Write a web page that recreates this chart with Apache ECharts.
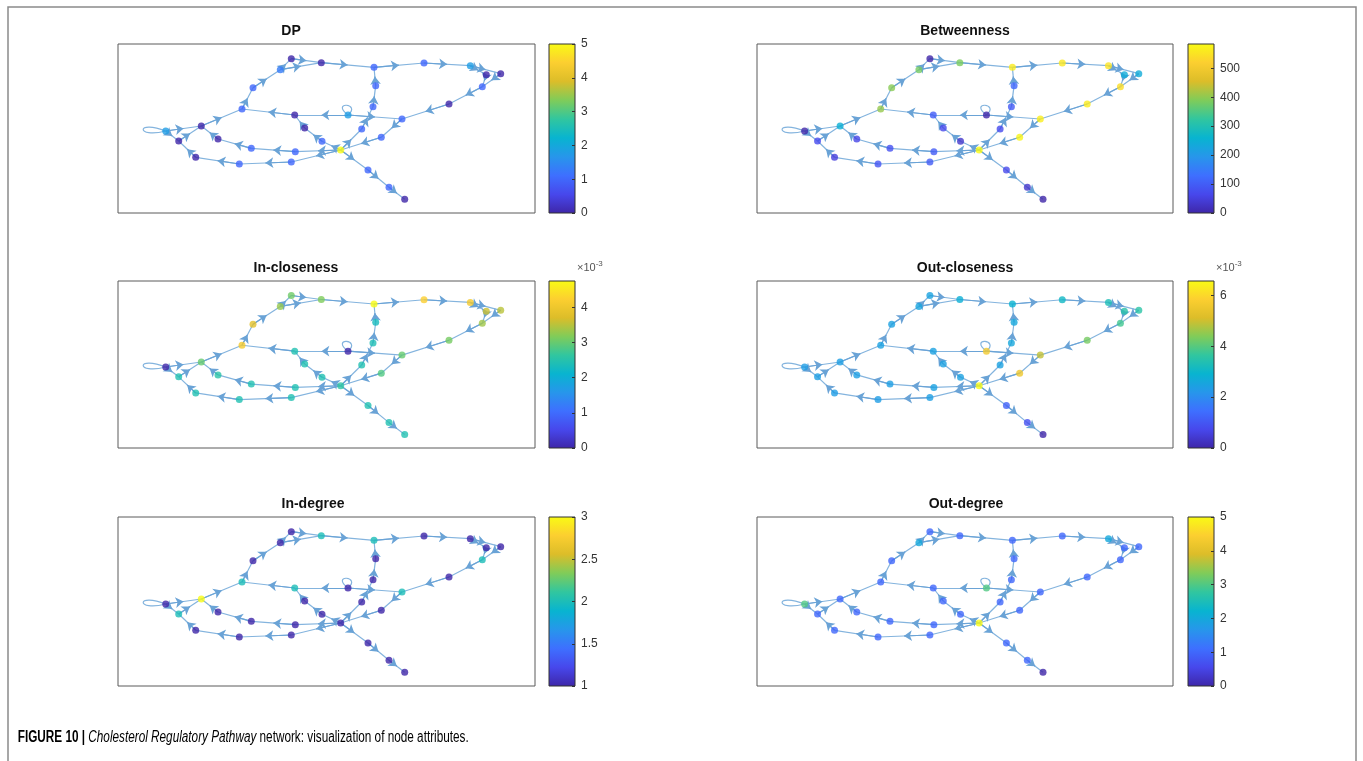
<!DOCTYPE html>
<html><head><meta charset="utf-8">
<script src="https://cdn.jsdelivr.net/npm/echarts@6/dist/echarts.min.js"></script>
<style>html,body{margin:0;padding:0;background:#fff;}#c{width:1363px;height:761px;}</style>
</head><body><div id="c"></div>
<script>
// ---------- DATA ----------
const nodeIds = ['A','B','C','D','E','F','G','H','I','J','K','L','M','N','O','P','Q','R','S','T','U','V','W','X','Y','Z','AA','AB','AC','AD','AE','AF','AG','AH'];
// layout coordinates (shared by all six panels)
const nodeX = [173.3,162.3,203.3,256,306,352.3,368.3,382.7,364.3,331,284,263.3,222.7,250,271,286.7,257.7,255,243.7,230,176.7,186.7,204,124,135,83.3,47.7,60.7,77.7,100,133.3,177.3,121.3,173.3];
const nodeY = [14.7,25.7,18.7,23.3,19,21.7,30.7,29.7,42.7,60,75,93.3,106,126,143.3,155.3,41.7,62.7,85,71,71,84,97.3,65,43.7,82,87,97,113.3,95,104.3,107.7,120,118];
const edgeFrom = ['AA','AA','AB','Z','X','Y','B','B','A','C','D','E','F','F','G','H','I','J','K','L','M','M','M','M','M','N','O','S','R','Q','W','V','U','T','T','AF','AE','AD','AH','AG','AC'];
const edgeTo   = ['Z','AB','Z','X','Y','B','A','C','C','D','E','F','G','H','I','I','J','K','L','M','N','AF','AH','S','W','O','P','R','Q','D','V','U','X','U','K','AE','AD','Z','AG','AC','AB'];
const selfLoops = ['AA','T'];

const panelTitles = ['DP','Betweenness','In-closeness','Out-closeness','In-degree','Out-degree'];
const dpValues          = [0,1.3,0,1,1,1.8,0,0,1,0,1,1,5,1,1,0,1,1,1,1.8,0,0,1,1,1,0,1.8,0,0,0,1,1,1,1];
const betweennessValues = [0,380,385,560,555,550,240,240,540,560,565,575,584,66,33,0,117,96,70,0,99,66,33,405,395,250,0,70,50,60,80,98,88,98];
const inClosenessE3     = [3.05,3.3,3.15,4.75,4.2,4.05,3.6,3.5,3.35,3.1,3.0,2.85,2.6,2.45,2.45,2.45,2.3,2.4,2.45,0,2.45,2.45,2.45,4.1,3.8,3.0,0,2.45,2.45,2.55,2.45,2.45,2.45,2.45];
const outClosenessE3    = [2.5,2.55,2.8,2.9,3.1,3.3,3.5,3.55,3.8,4.3,4.9,5.5,6.57,1.2,0.9,0,2.6,2.6,2.45,5.6,2.45,2.45,2.45,2.45,2.45,2.4,2.35,2.4,2.35,2.4,2.4,2.45,2.35,2.4];
const inDegreeValues    = [1,1,2,2,1,1,1,1,2,1,2,1,1,1,1,1,1,1,1,1,2,1,1,2,1,3,1,2,1,1,1,1,1,1];
const outDegreeValues   = [1,2,1,1,1,2,1,1,1,1,1,1,5,1,1,0,1,1,1,3,1,1,1,1,1,1,3,1,1,1,1,1,1,1];

const colorbarMin      = [0,0,0,0,1,0];
const colorbarMax      = [5,584,4.75,6.57,3,5];
const colorbarInterval = [1,100,1,2,0.5,1];
const colorbarShowMax  = [true,false,false,false,true,true];
const colorbarExponent = [false,false,true,true,false,false];

const captionBold = 'FIGURE 10 | ';
const captionItalic = 'Cholesterol Regulatory Pathway';
const captionRest = ' network: visualization of node attributes.';

// ---------- STYLE / LAYOUT ----------
const parula = ['#3e26a8','#4747eb','#3e6fff','#2796eb','#08b4d0','#31c69f','#80cc59','#dcbd29','#fccf30','#f9fb14'];
const panelValues = [dpValues,betweennessValues,inClosenessE3,outClosenessE3,inDegreeValues,outDegreeValues];
const boxes = [[118,44,417,169],[757,44,416,169],[118,281,417,167],[757,281,416,167],[118,517,417,169],[757,517,416,169]];
const titleX = [291,965,296,965,313,966];
const cbLeft = [549,1188];
const cbWidth = 26;
const edgeColor = '#84b4de';
const FONT = '"Liberation Sans", Arial, Helvetica, sans-serif';

const idx = {};
nodeIds.forEach((id,k)=>idx[id]=k);
const pos = id => [nodeX[idx[id]], nodeY[idx[id]]];

const chart = echarts.init(document.getElementById('c'), null, {renderer:'canvas'});
const grid = [], xAxis = [], yAxis = [], series = [], visualMap = [], graphic = [];

const stops = parula.map((c,k)=>({offset:k/(parula.length-1), color:c}));

for (let i=0;i<6;i++){
  const [bl,bt,bw,bh] = boxes[i];
  grid.push({left:bl, top:bt, width:bw, height:bh, show:true, borderColor:'#5a5a5a', borderWidth:1, backgroundColor:'#fff'});
  xAxis.push({gridIndex:i, type:'value', min:0, max:417, show:false});
  yAxis.push({gridIndex:i, type:'value', min:0, max:169, inverse:true, show:false});
}
for (let i=0;i<6;i++){
  const [bl,bt,bw,bh] = boxes[i];
  const g = 6+i;
  grid.push({left:cbLeft[i%2], top:bt, width:cbWidth, height:bh, show:true, borderColor:'#333', borderWidth:1,
    backgroundColor: new echarts.graphic.LinearGradient(0,1,0,0, stops)});
  xAxis.push({gridIndex:g, type:'value', min:0, max:1, show:false});
  yAxis.push({gridIndex:g, type:'value', position:'right', min:colorbarMin[i], max:colorbarMax[i], interval:colorbarInterval[i],
    axisLine:{show:false, onZero:false}, splitLine:{show:false},
    axisTick:{show:true, inside:true, length:3, lineStyle:{color:'#333'}},
    axisLabel:{color:'#333', fontSize:12, margin:6, fontFamily:FONT, showMaxLabel:colorbarShowMax[i], showMinLabel:true}});
}

for (let i=0;i<6;i++){
  // full edges
  series.push({type:'lines', coordinateSystem:'cartesian2d', xAxisIndex:i, yAxisIndex:i, silent:true, z:1,
    symbol:'none', lineStyle:{color:edgeColor, width:1.2, opacity:1},
    data: edgeFrom.map((f,k)=>({coords:[pos(f), pos(edgeTo[k])]}))});
  // arrows at middle of edges
  series.push({type:'lines', coordinateSystem:'cartesian2d', xAxisIndex:i, yAxisIndex:i, silent:true, z:2,
    symbol:['none','arrow'], symbolSize:[6,8], lineStyle:{color:'#6aa3d6', width:1.2, opacity:1},
    data: edgeFrom.map((f,k)=>{ const a=pos(f), b=pos(edgeTo[k]); return {coords:[a,[(a[0]+b[0])/2,(a[1]+b[1])/2]]}; })});
  // self loops
  series.push({type:'custom', coordinateSystem:'cartesian2d', xAxisIndex:i, yAxisIndex:i, silent:true, z:2,
    encode:{x:0,y:1},
    data: selfLoops.map(id=>[nodeX[idx[id]], nodeY[idx[id]], id==='AA'?0:1]),
    renderItem:(params, api)=>{
      const p = api.coord([api.value(0), api.value(1)]);
      const left = api.value(2)===0;
      const shape = left
        ? {x1:p[0],y1:p[1],x2:p[0],y2:p[1],cpx1:p[0]-30,cpy1:p[1]-12,cpx2:p[0]-30,cpy2:p[1]+8}
        : {x1:p[0],y1:p[1],x2:p[0],y2:p[1],cpx1:p[0]-18,cpy1:p[1]-14,cpx2:p[0]+14,cpy2:p[1]-12};
      return {type:'bezierCurve', shape, style:{stroke:edgeColor, fill:null, lineWidth:1.2}};
    }});
  // nodes
  const vals = panelValues[i];
  series.push({type:'scatter', xAxisIndex:i, yAxisIndex:i, z:5, symbol:'circle', symbolSize:7, silent:true,
    data: nodeX.map((x,k)=>[x, nodeY[k], vals[k]])});
  visualMap.push({type:'continuous', show:false, seriesIndex:series.length-1, dimension:2,
    min:colorbarMin[i], max:colorbarMax[i], inRange:{color:parula}});

  const [bl,bt,bw,bh] = boxes[i];
  graphic.push({type:'text', x:titleX[i], y:bt-13, silent:true,
    style:{text:panelTitles[i], font:'bold 14px '+FONT, fill:'#111', align:'center', verticalAlign:'middle'}});
  if (colorbarExponent[i]){
    graphic.push({type:'text', x:cbLeft[i%2]+cbWidth+2, y:bt-13, silent:true,
      style:{text:'{a|×10}{b|-3}', verticalAlign:'middle',
        rich:{a:{fontSize:11, fontFamily:FONT, fill:'#555', color:'#555'}, b:{fontSize:8, fontFamily:FONT, color:'#555', fill:'#555', verticalAlign:'bottom', padding:[0,0,8,0]}}}});
  }
}

graphic.push({type:'rect', silent:true, shape:{x:8,y:7,width:1348,height:820},
  style:{fill:null, stroke:'#8a8a8a', lineWidth:1.5}});
graphic.push({type:'text', x:14, y:738, scaleX:0.735, scaleY:1, originX:14, originY:738, silent:true,
  style:{text:'{b|'+captionBold+'}{i|'+captionItalic+'}{r|'+captionRest+'}', verticalAlign:'middle',
    rich:{b:{fontSize:16, fontWeight:'bold', fontFamily:FONT, color:'#111'},
          i:{fontSize:16, fontStyle:'italic', fontFamily:FONT, color:'#222'},
          r:{fontSize:16, fontFamily:FONT, color:'#222'}}}});

chart.setOption({animation:false, backgroundColor:'#fff', grid, xAxis, yAxis, series, visualMap, graphic});
</script></body></html>
